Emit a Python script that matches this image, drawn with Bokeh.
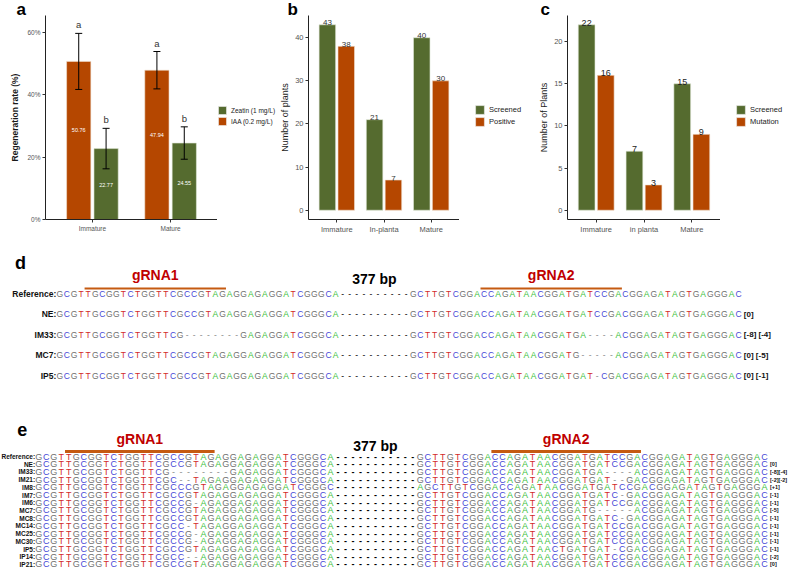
from bokeh.plotting import figure
from bokeh.models import Range1d, FixedTicker, Legend, LegendItem, Label, ColumnDataSource
from bokeh.layouts import column, row
from bokeh.core.properties import value
from bokeh.embed import file_html
from bokeh.resources import INLINE

FONT = "Liberation Sans"
GREEN = "#556B2F"
ORANGE = "#B54700"

# ---------------- data: panel a ----------------
a_categories = ["Immature", "Mature"]
a_iaa = [50.76, 47.94]
a_iaa_err = [9.0, 6.0]
a_zeatin = [22.77, 24.55]
a_zeatin_err = [6.5, 5.2]
a_iaa_letters = ["a", "a"]
a_zeatin_letters = ["b", "b"]
a_yticks = [0, 20, 40, 60]

# ---------------- data: panel b ----------------
b_categories = ["Immature", "In-planta", "Mature"]
b_screened = [43, 21, 40]
b_positive = [38, 7, 30]
b_yticks = [0, 10, 20, 30, 40]

# ---------------- data: panel c ----------------
c_categories = ["Immature", "in planta", "Mature"]
c_screened = [22, 7, 15]
c_mutation = [16, 3, 9]
c_yticks = [0, 5, 10, 15, 20]

# ---------------- data: sequences ----------------
REF_L = "GCGTTGCGGTCTGGTTCGCCGTAGAGGAGAGGATCGGGCA"
REF_R = "GCTTGTCGGACCAGATAACGGATGATCCGACGGAGATAGTGAGGGAC"
grna1_span = (4, 24)   # on left fragment
grna2_span = (10, 30)  # on right fragment

d_names = ["Reference:", "NE:", "IM33:", "MC7:", "IP5:"]
d_left = [REF_L, REF_L, "GCGTTGCGGTCTGGTTCG--------GAGAGGATCGGGCA", REF_L, REF_L]
d_right = [REF_R, REF_R,
           "GCTTGTCGGACCAGATAACGGATGA----ACGGAGATAGTGAGGGAC",
           "GCTTGTCGGACCAGATAACGGATG-----ACGGAGATAGTGAGGGAC",
           "GCTTGTCGGACCAGATAACGGATGAT-CGACGGAGATAGTGAGGGAC"]
d_notes = ["", "[0]", "[-8] [-4]", "[0] [-5]", "[0] [-1]"]
d_gap = 10

e_names = ["Reference:", "NE:", "IM33:", "IM21:", "IM8:", "IM7:", "IM6:", "MC7:", "MC8:",
           "MC14:", "MC25:", "MC30:", "IP5:", "IP14:", "IP21:"]
e_left = [REF_L, REF_L,
          "GCGTTGCGGTCTGGTTCG--------GAGAGGATCGGGCA",
          "GCGTTGCGGTCTGGTTCGC--TAGAGGAGAGGATCGGGCA",
          "GCGTTGCGGTCTGGTTCGCCCGTAGAGGAGAGGATCGGGC",
          REF_L,
          "GCGTTGCGGTCTGGTTCGCCG-AGAGGAGAGGATCGGGCA",
          REF_L, REF_L,
          "GCGTTGCGGTCTGGTTCGCC-TAGAGGAGAGGATCGGGCA",
          "GCGTTGCGGTCTGGTTCGCCG-AGAGGAGAGGATCGGGCA",
          "GCGTTGCGGTCTGGTTCGCCG-AGAGGAGAGGATCGGGCA",
          REF_L,
          "GCGTTGCGGTCTGGTTCGCC--AGAGGAGAGGATCGGGCA",
          REF_L]
e_right = [REF_R, REF_R,
           "GCTTGTCGGACCAGATAACGGATGA----ACGGAGATAGTGAGGGAC",
           "GCTTGTCGGACCAGATAACGGATGAT--GACGGAGATAGTGAGGGAC",
           "AGCTTGTCGGACCAGATAACGGATGATCCGACGGAGATAGTGAGGGA",
           "GCTTGTCGGACCAGATAACGGATGATC-GACGGAGATAGTGAGGGAC",
           REF_R,
           "GCTTGTCGGACCAGATAACGGATG-----ACGGAGATAGTGAGGGAC",
           "GCTTGTCGGACCAGATAACGGATGATC-GACGGAGATAGTGAGGGAC",
           REF_R, REF_R, REF_R,
           "GCTTGTCGGACCAGATAACTGATGAT-CGACGGAGATAGTGAGGGAC",
           REF_R, REF_R]
e_notes = ["", "[0]", "[-8][-4]", "[-2][-2]", "[+1]", "[-1]", "[-1]", "[-5]", "[-1]",
           "[-1]", "[-1]", "[-1]", "[-1]", "[-2]", "[0]"]
e_gap = 11

BASE_COLORS = {"A": "#3CBF3C", "C": "#4848D6", "G": "#707070", "T": "#D22B2B", "-": "#8A8A8A"}
H_TOP = 245


def style_bar_axes(p, cats, yticks):
    p.xaxis.ticker = FixedTicker(ticks=list(range(1, len(cats) + 1)))
    p.xaxis.major_label_overrides = {i + 1: c for i, c in enumerate(cats)}
    p.yaxis.ticker = FixedTicker(ticks=yticks)
    for ax in p.axis:
        ax.axis_line_color = "#222222"
        ax.axis_line_width = 1
        ax.major_tick_line_color = "#333333"
        ax.major_tick_out = 3
        ax.major_tick_in = 0
        ax.minor_tick_line_color = None
        ax.major_label_text_color = "#555555"
        ax.major_label_text_font = FONT
        ax.major_label_standoff = 2
        ax.axis_label_text_font = FONT
        ax.axis_label_text_color = "#1a1a1a"
    p.xgrid.visible = False
    p.ygrid.visible = False
    p.outline_line_color = None


def title_letter(p, txt, offset, standoff):
    p.title.text = txt
    p.title.text_font = FONT
    p.title.text_font_size = "17px"
    p.title.text_font_style = "bold"
    p.title.text_color = "black"
    p.title.align = "left"
    p.title.offset = offset
    try:
        p.title.standoff = standoff
    except Exception:
        p.title.standoff = 0


def legend_fig(width, labels, colors, loc, glyph, font_size):
    p = figure(width=width, height=H_TOP, x_range=Range1d(0, 1), y_range=Range1d(0, 1),
               output_backend="svg", toolbar_location=None, x_axis_type=None,
               y_axis_type=None, min_border=0)
    p.xgrid.visible = False
    p.ygrid.visible = False
    p.outline_line_color = None
    items = []
    for lab, c in zip(labels, colors):
        # zero-size key renderer: only its style is used by the legend swatch
        r = p.vbar(x=[0.5], top=[0], bottom=[0], width=0, fill_color=c,
                   line_color="#ececec", line_width=0.6)
        items.append(LegendItem(label=lab, renderers=[r]))
    p.add_layout(Legend(items=items, location=loc, glyph_width=glyph, glyph_height=glyph,
                        label_height=glyph, spacing=1, padding=0, margin=0,
                        label_standoff=4, label_text_font_size=font_size,
                        label_text_font=FONT, label_text_color="#222222",
                        label_text_baseline="middle", border_line_color=None,
                        background_fill_alpha=0))
    return p


# ================= panel a =================
pa = figure(width=217, height=H_TOP, x_range=Range1d(0.4, 2.6), y_range=Range1d(0, 65.5),
            output_backend="svg", toolbar_location=None,
            min_border_left=45, min_border_right=0, min_border_top=15, min_border_bottom=25)
xa = [i + 1 for i in range(len(a_categories))]
xa_iaa = [x - 0.175 for x in xa]
xa_zea = [x + 0.175 for x in xa]
pa.vbar(x=xa_iaa, top=a_iaa, bottom=0, width=0.31, fill_color=ORANGE,
        line_color="#f0e0d0", line_width=0.6)
pa.vbar(x=xa_zea, top=a_zeatin, bottom=0, width=0.31, fill_color=GREEN,
        line_color="#e0e8d8", line_width=0.6)
cap = 0.045
for xs, vals, errs, letters in [(xa_iaa, a_iaa, a_iaa_err, a_iaa_letters),
                                (xa_zea, a_zeatin, a_zeatin_err, a_zeatin_letters)]:
    hi = [v + e for v, e in zip(vals, errs)]
    lo = [v - e for v, e in zip(vals, errs)]
    pa.segment(x0=xs, y0=lo, x1=xs, y1=hi, line_color="black", line_width=1)
    pa.segment(x0=[x - cap for x in xs], y0=hi, x1=[x + cap for x in xs], y1=hi,
               line_color="black", line_width=1)
    pa.segment(x0=[x - cap for x in xs], y0=lo, x1=[x + cap for x in xs], y1=lo,
               line_color="black", line_width=1)
    pa.text(x=xs, y=[h + 2.7 for h in hi], text=letters, text_align="center",
            text_baseline="middle", text_font=value(FONT), text_font_size=value("9.5px"),
            text_color="#333333")
pa.text(x=xa_iaa, y=[v * 0.565 for v in a_iaa], text=[f"{v:.2f}" for v in a_iaa],
        text_align="center", text_baseline="middle", text_font=value(FONT),
        text_font_size=value("5.5px"), text_color="white")
pa.text(x=xa_zea, y=[v * 0.48 for v in a_zeatin], text=[f"{v:.2f}" for v in a_zeatin],
        text_align="center", text_baseline="middle", text_font=value(FONT),
        text_font_size=value("5.5px"), text_color="white")
style_bar_axes(pa, a_categories, a_yticks)
pa.yaxis.major_label_overrides = {t: f"{t}%" for t in a_yticks}
pa.yaxis.axis_label = "Regeneration rate (%)"
pa.yaxis.axis_label_text_font_size = "8.5px"
pa.yaxis.axis_label_text_font_style = "bold"
pa.yaxis.axis_label_standoff = 4
pa.axis.major_label_text_font_size = "6.5px"
title_letter(pa, "a", -29, -7)
la = legend_fig(60, ["Zeatin (1 mg/L)", "IAA (0.2 mg/L)"], [GREEN, ORANGE], (0, 93), 10,
                "6.5px")

# ================= panel b =================
pb = figure(width=182, height=H_TOP, x_range=Range1d(0.4, 3.6), y_range=Range1d(-2.15, 45.15),
            output_backend="svg", toolbar_location=None,
            min_border_left=29, min_border_right=0, min_border_top=15, min_border_bottom=26)
xb = [i + 1 for i in range(len(b_categories))]
xb_s = [x - 0.2 for x in xb]
xb_p = [x + 0.2 for x in xb]
pb.vbar(x=xb_s, top=b_screened, bottom=0, width=0.35, fill_color=GREEN,
        line_color="#e0e8d8", line_width=0.6)
pb.vbar(x=xb_p, top=b_positive, bottom=0, width=0.35, fill_color=ORANGE,
        line_color="#f0e0d0", line_width=0.6)
for xs, vals in [(xb_s, b_screened), (xb_p, b_positive)]:
    pb.text(x=xs, y=vals, text=[str(v) for v in vals], text_align="center",
            text_baseline="alphabetic", y_offset=-2, text_font=value(FONT),
            text_font_size=value("8px"), text_color="#333333")
style_bar_axes(pb, b_categories, b_yticks)
pb.yaxis.axis_label = "Number of plants"
pb.yaxis.axis_label_text_font_size = "9px"
pb.yaxis.axis_label_text_font_style = "normal"
pb.yaxis.axis_label_standoff = 2
pb.axis.major_label_text_font_size = "7.5px"
title_letter(pb, "b", -21, -7)
lb = legend_fig(77, ["Screened", "Positive"], [GREEN, ORANGE], (15, 92), 11, "7.5px")

# ================= panel c =================
pc = figure(width=184, height=H_TOP, x_range=Range1d(0.4, 3.6), y_range=Range1d(-1.1, 23.1),
            output_backend="svg", toolbar_location=None,
            min_border_left=31, min_border_right=0, min_border_top=15, min_border_bottom=24)
xc = [i + 1 for i in range(len(c_categories))]
xc_s = [x - 0.2 for x in xc]
xc_m = [x + 0.2 for x in xc]
pc.vbar(x=xc_s, top=c_screened, bottom=0, width=0.35, fill_color=GREEN,
        line_color="#e0e8d8", line_width=0.6)
pc.vbar(x=xc_m, top=c_mutation, bottom=0, width=0.35, fill_color=ORANGE,
        line_color="#f0e0d0", line_width=0.6)
for xs, vals in [(xc_s, c_screened), (xc_m, c_mutation)]:
    pc.text(x=xs, y=vals, text=[str(v) for v in vals], text_align="center",
            text_baseline="alphabetic", y_offset=-2, text_font=value(FONT),
            text_font_size=value("9px"), text_color="#222222")
style_bar_axes(pc, c_categories, c_yticks)
pc.yaxis.axis_label = "Number of Plants"
pc.yaxis.axis_label_text_font_size = "9px"
pc.yaxis.axis_label_text_font_style = "normal"
pc.yaxis.axis_label_standoff = 2
pc.axis.major_label_text_font_size = "7.5px"
title_letter(pc, "c", -27, -7)
lc = legend_fig(74, ["Screened", "Mutation"], [GREEN, ORANGE], (15, 92), 11, "7.5px")


# ================= sequence panels =================
def seq_panel(height, x0, w, y0, dy, names, lefts, rights, notes, gap, fs_seq, fs_name,
              fs_note, bold_spacer, line_row, text_row, bp_row, line_w, letter, letter_xy):
    y_bottom = (height - y0) / dy
    y_top = -y0 / dy
    p = figure(width=794, height=height, x_range=Range1d(-x0 / w, (794 - x0) / w),
               y_range=Range1d(y_bottom, y_top), output_backend="svg",
               toolbar_location=None, x_axis_type=None, y_axis_type=None, min_border=0)
    p.xgrid.visible = False
    p.ygrid.visible = False
    p.outline_line_color = None
    xs, ys, ch, col = [], [], [], []
    sx, sy = [], []
    nx, ny = [], []
    for r, (L, R) in enumerate(zip(lefts, rights)):
        for i, c in enumerate(L):
            xs.append(i + 0.5); ys.append(r); ch.append(c); col.append(BASE_COLORS[c])
        for k in range(gap):
            sx.append(len(L) + k + 0.5); sy.append(r)
        off = len(L) + gap
        for i, c in enumerate(R):
            xs.append(off + i + 0.5); ys.append(r); ch.append(c); col.append(BASE_COLORS[c])
        nx.append(off + len(R)); ny.append(r)
    src = ColumnDataSource(dict(x=xs, y=ys, ch=ch, col=col))
    p.text(x="x", y="y", text="ch", text_color="col", source=src, text_align="center",
           text_baseline="middle", text_font=value(FONT), text_font_size=value(fs_seq))
    p.text(x=sx, y=sy, text=["-"] * len(sx), text_color="black", text_align="center",
           text_baseline="middle", text_font=value(FONT), text_font_size=value(fs_seq),
           text_font_style="bold" if bold_spacer else "normal")
    p.text(x=[0] * len(names), y=list(range(len(names))), text=names, text_align="right",
           text_baseline="middle", text_font=value(FONT), text_font_size=value(fs_name),
           text_font_style="bold", text_color="#111111")
    p.text(x=[v + 0.25 for v in nx], y=ny, text=notes, text_align="left",
           text_baseline="middle", text_font=value(FONT), text_font_size=value(fs_note),
           text_font_style="bold", text_color="#111111")
    Ln = len(lefts[0])
    seg_x0 = [grna1_span[0], Ln + gap + grna2_span[0]]
    seg_x1 = [grna1_span[1], Ln + gap + grna2_span[1]]
    p.segment(x0=seg_x0, y0=[line_row] * 2, x1=seg_x1, y1=[line_row] * 2,
              line_color="#C55A11", line_width=line_w)
    p.text(x=[(a + b) / 2 for a, b in zip(seg_x0, seg_x1)], y=[text_row] * 2,
           text=["gRNA1", "gRNA2"], text_align="center", text_baseline="middle",
           text_font=value(FONT), text_font_size=value("14px"), text_font_style="bold",
           text_color="#C00000")
    p.text(x=[Ln + gap / 2], y=[bp_row], text=["377 bp"], text_align="center",
           text_baseline="middle", text_font=value(FONT), text_font_size=value("14px"),
           text_font_style="bold", text_color="black")
    p.add_layout(Label(x=letter_xy[0], y=letter_xy[1], x_units="screen", y_units="screen",
                       text=letter, text_font=FONT, text_font_size="18px",
                       text_font_style="bold", text_align="center",
                       text_baseline="alphabetic", text_color="black"))
    return p


pd_ = seq_panel(140, 55.8, 7.07, 48, 20.5, d_names, d_left, d_right, d_notes, d_gap,
                "8.5px", "8.5px", "8px", False, -0.25, -0.88, -0.73, 2, "d", (20, 123))
pe_ = seq_panel(184, 34.6, 7.48, 71, 7.71, e_names, e_left, e_right, e_notes, e_gap,
                "9px", "6.5px", "5.5px", True, -0.65, -2.33, -1.3, 3, "e", (21.7, 140.5))

layout = column(row(pa, la, pb, lb, pc, lc), pd_, pe_)
open("out.html", "w").write(file_html(layout, INLINE))
